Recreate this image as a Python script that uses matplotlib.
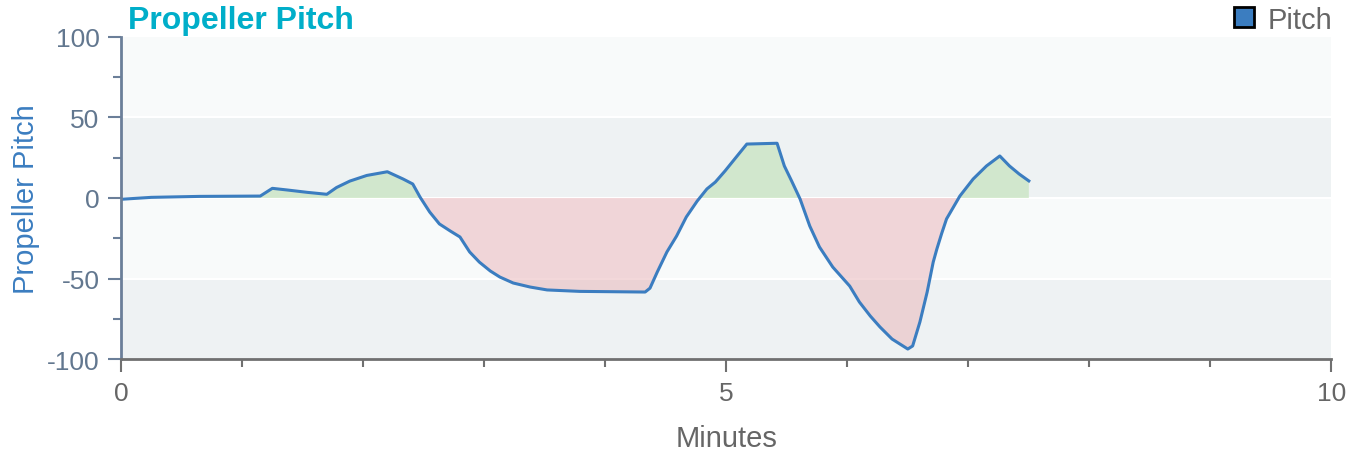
import matplotlib.pyplot as plt
import numpy as np
from matplotlib.lines import Line2D

plt.rcParams['font.family'] = ['Liberation Sans', 'DejaVu Sans']
plt.rcParams['axes.unicode_minus'] = False

# pitch readings (minutes, pitch)
minutes = [0.0, 0.25, 0.65, 1.15, 1.25, 1.37, 1.54, 1.70, 1.78, 1.89, 2.03, 2.20,
           2.33, 2.41, 2.47, 2.55, 2.63, 2.72, 2.80, 2.88, 2.96, 3.05, 3.13,
           3.24, 3.38, 3.52, 3.79, 4.06, 4.33, 4.37, 4.43, 4.51, 4.59, 4.67,
           4.76, 4.84, 4.91, 4.99, 5.09, 5.17, 5.42, 5.48, 5.54, 5.61, 5.69,
           5.77, 5.88, 6.02, 6.10, 6.19, 6.27, 6.37, 6.50, 6.54, 6.60, 6.66,
           6.71, 6.74, 6.78, 6.82, 6.93, 7.04, 7.15, 7.26, 7.34, 7.42, 7.50]
pitch = [-0.8, 0.4, 1.0, 1.2, 6.0, 5.0, 3.5, 2.3, 6.5, 10.5, 14.0, 16.3,
         11.8, 8.7, 0.6, -8.7, -16.1, -20.5, -24.2, -33.5, -39.8, -45.3, -49.1,
         -52.8, -55.3, -57.1, -58.0, -58.2, -58.4, -56.0, -46.0, -33.5, -23.6, -11.8,
         -1.9, 5.6, 9.9, 16.8, 26.1, 33.5, 34.0, 19.9, 10.6, -0.6, -17.4,
         -30.4, -42.9, -54.7, -64.6, -73.3, -80.1, -87.6, -93.8, -91.9, -77.0, -58.4,
         -39.8, -31.7, -22.0, -13.0, 1.2, 11.8, 19.9, 26.1, 19.9, 14.9, 10.6]
x_ticks = [0, 5, 10]
y_ticks = [-100, -50, 0, 50, 100]

x = np.array(minutes)
y = np.array(pitch)

fig = plt.figure(figsize=(13.6, 4.56), dpi=100)
ax = fig.add_axes([0.089, 0.2105, 0.890, 0.7062])

# alternating bands
ax.axhspan(50, 100, color='#f8fafa', lw=0, zorder=0)
ax.axhspan(0, 50, color='#eef2f3', lw=0, zorder=0)
ax.axhspan(-50, 0, color='#f8fafa', lw=0, zorder=0)
ax.axhspan(-100, -50, color='#eef2f3', lw=0, zorder=0)
for yy in [50, 0, -50]:
    ax.axhline(yy, color='white', lw=1.5, zorder=0.5)

ax.fill_between(x, y, 0, where=y >= 0, interpolate=True, color='#c5e3bd', alpha=0.7, lw=0, zorder=1)
ax.fill_between(x, y, 0, where=y <= 0, interpolate=True, color='#eab8bc', alpha=0.55, lw=0, zorder=1)
ax.plot(x, y, color='#3b7dc0', lw=2.2, zorder=2, solid_joinstyle='round')

ax.set_xlim(0, 10)
ax.set_ylim(-100, 100)
ax.set_xticks(x_ticks)
ax.set_xticks(np.arange(0, 11, 1), minor=True)
ax.set_yticks(y_ticks)
ax.set_yticks(np.arange(-100, 101, 25), minor=True)

for s in ['top', 'right']:
    ax.spines[s].set_visible(False)
ax.spines['left'].set_color('#6b7f99')
ax.spines['left'].set_linewidth(2)
ax.spines['bottom'].set_color('#707070')
ax.spines['bottom'].set_linewidth(2)

ax.tick_params(axis='y', which='major', length=9.5, width=1.5)
ax.tick_params(axis='y', which='minor', length=6, width=1.5)
ax.tick_params(axis='y', which='both', colors='#6b7f99', labelsize=19, pad=6)
ax.tick_params(axis='y', labelcolor='#62778f')
ax.tick_params(axis='x', which='major', length=9.5, width=1.5)
ax.tick_params(axis='x', which='minor', length=6, width=1.5)
ax.tick_params(axis='x', which='both', colors='#707070', labelsize=19, pad=6)
ax.tick_params(axis='x', labelcolor='#666666')

ax.set_xlabel('Minutes', fontsize=21, color='#666666', labelpad=14)
ax.set_ylabel('Propeller Pitch', fontsize=21, color='#3b7dc0', labelpad=5)

fig.text(0.094, 0.955, 'Propeller Pitch', fontsize=23, fontweight='bold', color='#00aec9', va='center', ha='left')

handle = Line2D([], [], marker='s', ls='', markersize=14, markerfacecolor='#3b7dc0',
                markeredgecolor='black', markeredgewidth=2)
leg = fig.legend([handle], ['Pitch'], loc='center right', bbox_to_anchor=(0.9905, 0.955),
                 frameon=False, fontsize=21, handletextpad=0.3, borderpad=0, handlelength=1)
for t in leg.get_texts():
    t.set_color('#666666')

fig.savefig('out.png', dpi=100)
